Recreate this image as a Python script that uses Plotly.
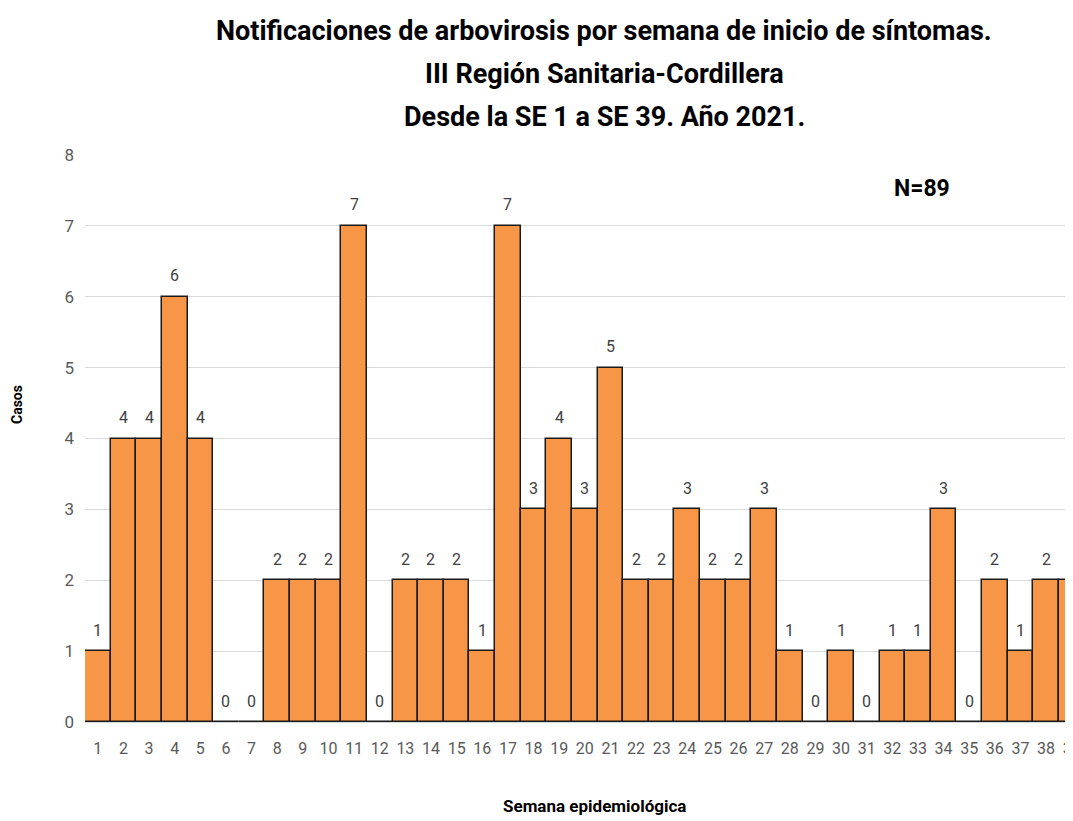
import plotly.graph_objects as go

semanas = [str(i) for i in range(1, 40)]
casos = [1, 4, 4, 6, 4, 0, 0, 2, 2, 2, 7, 0, 2, 2, 2, 1, 7, 3, 4, 3,
         5, 2, 2, 3, 2, 2, 3, 1, 0, 1, 0, 1, 1, 3, 0, 2, 1, 2, 2]
title_lines = [
    "Notificaciones de arbovirosis por semana de inicio de síntomas.",
    "III Región Sanitaria-Cordillera",
    "Desde la SE 1 a SE 39. Año 2021.",
]
total_label = "N=89"

FONT = "Roboto, Liberation Sans, sans-serif"
OFF = 8  # default page body margin
W, H = 1073 - OFF, 821 - OFF
L, T, PW, PH = 85 - OFF, 155 - OFF, 1073 - 85, 567  # plot area (figure pixels)


def px_x(x):
    return (x - OFF - L) / PW


def px_y(y):
    return (T + PH - (y - OFF)) / PH


xs = list(range(1, 40))
fig = go.Figure()
fig.add_trace(go.Bar(
    x=xs, y=casos,
    marker=dict(color="#F79646", line=dict(color="#1a1a1a", width=1.5)),
    width=1.0, hoverinfo="x+y",
))

annotations = []
for x, v in zip(xs, casos):
    annotations.append(dict(
        x=x, y=v, xref="x", yref="y", text=str(v), showarrow=False,
        yanchor="middle", yshift=21,
        font=dict(family=FONT, size=16, color="#404040"),
    ))

for line, yc in zip(title_lines, [31, 74, 117]):
    annotations.append(dict(
        x=px_x(604), y=px_y(yc), xref="paper", yref="paper", text="<b>" + line + "</b>",
        showarrow=False, xanchor="center", yanchor="middle",
        font=dict(family=FONT, size=27, color="black"),
    ))

annotations.append(dict(
    text="<b>Semana epidemiológica</b>", x=px_x(594), y=px_y(806), xref="paper", yref="paper",
    showarrow=False, xanchor="center", yanchor="middle",
    font=dict(family=FONT, size=17, color="black"),
))
annotations.append(dict(
    text="<b>Casos</b>", x=px_x(17), y=px_y(405), xref="paper", yref="paper",
    showarrow=False, xanchor="center", yanchor="middle", textangle=-90,
    font=dict(family=FONT, size=14, color="black"),
))
annotations.append(dict(
    text="<b>" + total_label + "</b>", x=px_x(922), y=px_y(188), xref="paper", yref="paper",
    showarrow=False, xanchor="center", yanchor="middle",
    font=dict(family=FONT, size=23, color="black"),
))

fig.update_layout(
    width=W, height=H,
    margin=dict(l=L, r=W - L - PW, t=T, b=H - T - PH, autoexpand=False),
    plot_bgcolor="white", paper_bgcolor="white",
    bargap=0, showlegend=False,
    font=dict(family=FONT, color="#595959"),
    xaxis=dict(
        range=[0.5, 39.05], tickmode="array", tickvals=xs, ticktext=semanas,
        showgrid=False, showline=True, linecolor="#d9d9d9", linewidth=1,
        ticks="", ticklabelstandoff=12, automargin=False, ticklabeloverflow="allow",
        tickfont=dict(family=FONT, size=16, color="#595959"),
    ),
    yaxis=dict(
        range=[0, 8], dtick=1, showgrid=True, gridcolor="#d9d9d9", gridwidth=1,
        zeroline=False, ticks="", ticklabelstandoff=10, automargin=False,
        tickfont=dict(family=FONT, size=17, color="#595959"),
    ),
    annotations=annotations,
)

fig.write_html("out.html")
